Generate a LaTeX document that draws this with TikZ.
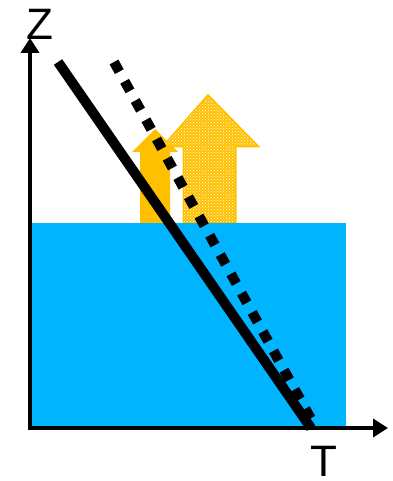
\documentclass[tikz,border=0pt]{standalone}
\usepackage{fontspec}
\setmainfont{Liberation Sans}
\usetikzlibrary{arrows.meta,patterns}
\definecolor{water}{HTML}{00B4FF}
\definecolor{warm}{HTML}{FFC000}
\begin{document}
\begin{tikzpicture}[x=1pt,y=-1pt,
  axis/.style={line width=4pt,-{Triangle[length=15pt,width=18pt]}},
  lbl/.style={font=\fontsize{44}{44}\selectfont,inner sep=0pt},
  heatarrow/.style={fill=warm,draw=warm,line width=3pt,line join=miter},
]
\useasboundingbox (0,0) rectangle (392,481);
% orange arrows
\fill[warm] (140,223) -- (140,152) -- (132,152) -- (155,129) -- (178,152) -- (170,152) -- (170,223) -- cycle;
\draw[heatarrow,postaction={pattern=crosshatch dots,pattern color=white}]
  (184,222) -- (184,146) -- (164,146) -- (208,96) -- (257,146) -- (235,146) -- (235,222) -- cycle;
% water
\fill[water] (30,223) rectangle (346,428);
% axes
\coordinate (o) at (30,428);
\coordinate (ztip) at (30,38);
\coordinate (ttip) at (388,428);
\draw[axis] (28,428) -- (ttip);
\draw[axis] (30,430) -- (ztip);
\node[lbl] (Z) at (40,24) {Z};
\node[lbl] (T) at (324,461) {T};
% profiles
\draw[line width=10pt] (58,62) -- (311,428);
\draw[line width=10pt,dash pattern=on 11pt off 11pt] (114,62) -- (316,428);
\end{tikzpicture}
\end{document}
